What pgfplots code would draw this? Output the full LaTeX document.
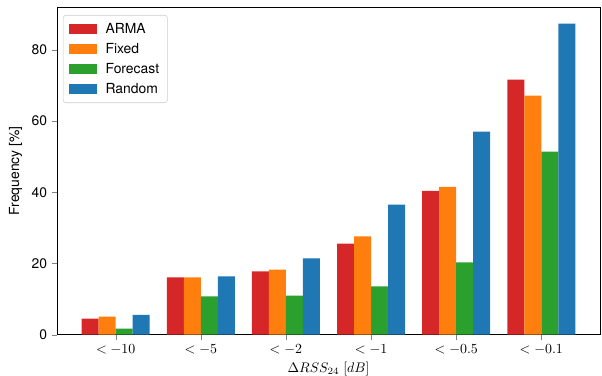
\documentclass[border=0pt]{standalone}
\usepackage[no-math]{fontspec}
\setmainfont{TeX Gyre Heros}
\usepackage{pgfplots}
\pgfplotsset{compat=1.18}
\usetikzlibrary{calc}
\definecolor{tabred}{HTML}{D62728}
\definecolor{taborange}{HTML}{FF7F0E}
\definecolor{tabgreen}{HTML}{2CA02C}
\definecolor{tabblue}{HTML}{1F77B4}
\begin{document}
\begin{tikzpicture}
\begin{axis}[
  width=391pt, height=236pt, scale only axis,
  xmin=-0.69, xmax=5.69, ymin=0, ymax=92,
  ybar, bar width=0.2,
  xtick={0,1,2,3,4,5},
  xticklabels={$<-10$,$<-5$,$<-2$,$<-1$,$<-0.5$,$<-0.1$},
  ytick={0,20,40,60,80},
  tick align=outside, tick pos=left, major tick length=3.5pt,
  /pgf/number format/assume math mode=true,
  tick label style={font=\fontsize{10}{12}\selectfont},
  label style={font=\fontsize{10}{12}\selectfont},
  ylabel={Frequency [\%]},
  xlabel={$\Delta RSS_{24}\ [dB]$},
  xlabel style={yshift=1.2pt},
  axis line style={line width=0.6pt},
  legend image code/.code={\fill[#1, sharp corners] (0pt,-3.6pt) rectangle (20pt,3.6pt);},
  legend cell align=left,
  legend style={at={(0,1)}, anchor=north west, xshift=4.3pt, yshift=-5.8pt,
    draw=black!20, rounded corners=2pt, font=\fontsize{10}{12}\selectfont,
    inner xsep=4pt, inner ysep=3.5pt, row sep=1.6pt,
    /tikz/every odd column/.append style={column sep=4.5pt}},
]
\addplot[fill=tabred, draw=none, bar shift=-0.3] coordinates {(0,4.5) (1,16.1) (2,17.8) (3,25.6) (4,40.4) (5,71.6)};
\addplot[fill=taborange, draw=none, bar shift=-0.1] coordinates {(0,5.05) (1,16.1) (2,18.3) (3,27.6) (4,41.5) (5,67.1)};
\addplot[fill=tabgreen, draw=none, bar shift=0.1] coordinates {(0,1.7) (1,10.75) (2,11.0) (3,13.6) (4,20.3) (5,51.4)};
\addplot[fill=tabblue, draw=none, bar shift=0.3] coordinates {(0,5.6) (1,16.4) (2,21.4) (3,36.5) (4,57.0) (5,87.3)};
\legend{ARMA,Fixed,Forecast\hspace{4.5pt},Random}
\end{axis}
\pgfresetboundingbox
\path[use as bounding box] ($(current axis.south west)+(-41pt,-29.5pt)$) rectangle ($(current axis.north east)+(1.4pt,5pt)$);
\end{tikzpicture}
\end{document}
